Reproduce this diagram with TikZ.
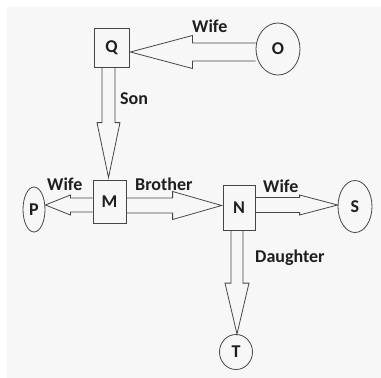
\documentclass[tikz,border=0pt]{standalone}
\usepackage{fontspec}
\setmainfont{Carlito}
\usetikzlibrary{shapes.geometric,calc}
\definecolor{bgc}{RGB}{247,247,247}
\definecolor{linec}{RGB}{70,70,70}
\definecolor{txtc}{RGB}{30,30,30}
\newcommand\blockarr[5]{%
  \coordinate (ba-hb) at ($(#2)!#5!(#1)$);
  \draw[arr] ($(#1)!#3!90:(#2)$) -- ($(ba-hb)!#3!90:(#2)$) -- ($(ba-hb)!#4!90:(#2)$) -- (#2)
    -- ($(ba-hb)!#4!-90:(#2)$) -- ($(ba-hb)!#3!-90:(#2)$) -- ($(#1)!#3!-90:(#2)$);
}
\begin{document}
\begin{tikzpicture}[x=1pt,y=-1pt,
  every node/.style={text=txtc,font=\fontsize{18}{20}\selectfont\bfseries},
  boxn/.style={draw=linec,line width=0.8pt,rectangle,inner sep=0pt},
  elln/.style={draw=linec,line width=0.8pt,ellipse,inner sep=0pt},
  arr/.style={draw=linec,line width=0.8pt,line join=miter},
  lbl/.style={anchor=base west,inner sep=0pt}]
\useasboundingbox (0,0) rectangle (381,378);
\fill[white] (0,0) rectangle (381,378);
\fill[bgc] (7,7) rectangle (381,378);
% nodes
\node[boxn,minimum width=35,minimum height=39] (Q) at (111.5,47.5) {Q};
\node[elln,minimum width=44,minimum height=52] (O) at (278,49) {O};
\node[boxn,minimum width=33,minimum height=43] (M) at (109.5,201.5) {M};
\node[elln,minimum width=22,minimum height=45] (P) at (34,209.5) {P};
\node[boxn,minimum width=32,minimum height=45] (N) at (239,207.5) {N};
\node[elln,minimum width=34,minimum height=52] (S) at (355,206.5) {S};
\node[elln,minimum width=33,minimum height=35] (T) at (236,352) {T};
% arrow end points
\coordinate (oq-s) at ($(O.west)+(0,3)$);
\coordinate (oq-e) at ($(Q.east)+(1,4.5)$);
\coordinate (qm-s) at ($(Q.south)+(-3,0)$);
\coordinate (qm-e) at ($(M.north)+(-1,-2)$);
\coordinate (mp-s) at ($(M.west)+(0,3.5)$);
\coordinate (mp-e) at ($(P.east)+(0,-4.5)$);
\coordinate (mn-s) at ($(M.east)+(0,4)$);
\coordinate (mn-e) at ($(N.west)+(-1,-2)$);
\coordinate (ns-s) at ($(N.east)+(0,-2.5)$);
\coordinate (ns-e) at ($(S.west)+(0,-1.5)$);
\coordinate (nt-s) at ($(N.south)+(-2,0)$);
\coordinate (nt-e) at ($(T.north)+(1,0)$);
% block arrows
\blockarr{oq-s}{oq-e}{9pt}{16.5pt}{62pt}
\blockarr{qm-s}{qm-e}{6.5pt}{11.5pt}{55pt}
\blockarr{mp-s}{mp-e}{7pt}{10pt}{25pt}
\blockarr{mn-s}{mn-e}{7.5pt}{14pt}{49pt}
\blockarr{ns-s}{ns-e}{7.5pt}{10pt}{38pt}
\blockarr{nt-s}{nt-e}{6pt}{12pt}{51pt}
% labels
\node[lbl] (l1) at (192,32) {Wife};
\node[lbl] (l2) at (120,104) {Son};
\node[lbl] (l3) at (47,190) {Wife};
\node[lbl] (l4) at (135,190) {Brother};
\node[lbl] (l5) at (263,192) {Wife};
\node[lbl] (l6) at (255,262) {Daughter};
\end{tikzpicture}
\end{document}
